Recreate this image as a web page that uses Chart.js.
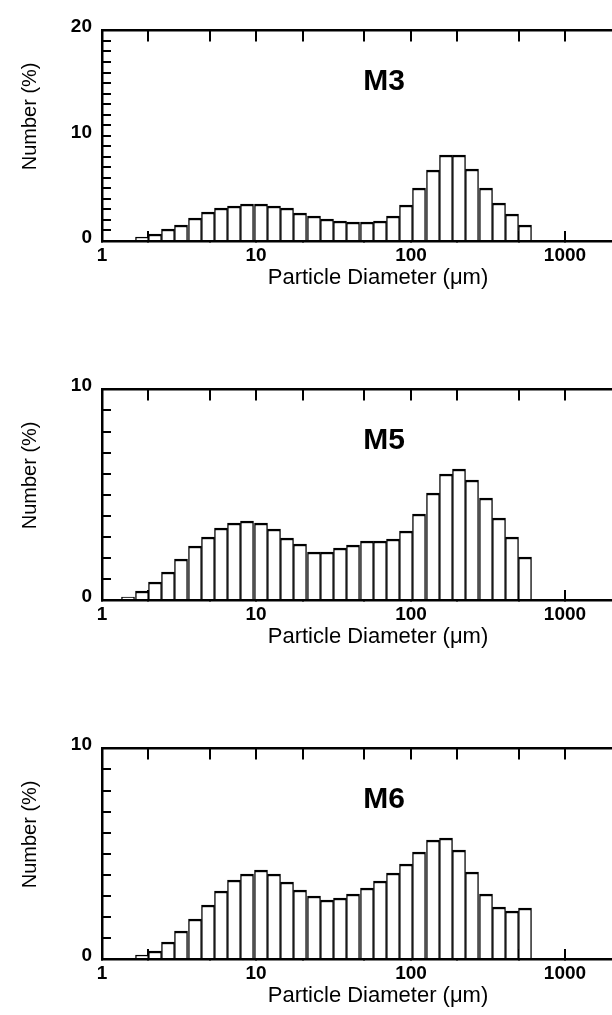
<!DOCTYPE html>
<html>
<head>
<meta charset="utf-8">
<script src="https://cdn.jsdelivr.net/npm/chart.js@4.4.1/dist/chart.umd.min.js"></script>
<style>
body { margin: 0; background: #fff; width: 612px; height: 1015px; overflow: hidden; }
.panel { width: 612px; height: 359px; overflow: hidden; }
canvas { display: block; }
</style>
</head>
<body>
<div class="panel"><canvas id="m3" width="620" height="359"></canvas></div>
<div class="panel"><canvas id="m5" width="620" height="359"></canvas></div>
<div class="panel"><canvas id="m6" width="620" height="359"></canvas></div>
<script>
// bin centres, particle diameter (um)
const diameters = [1.481, 1.804, 2.197, 2.677, 3.261, 3.973, 4.839, 5.895, 7.182, 8.749,
  10.66, 12.98, 15.82, 19.27, 23.47, 28.59, 34.83, 42.43, 51.69, 62.97,
  76.71, 93.45, 113.8, 138.7, 168.9, 205.8, 250.7, 305.4, 372.1, 453.3, 552.2];

// number (%) per bin
const m3Values = [0, 0.37, 0.7, 1.17, 1.54, 2.16, 2.78, 3.09, 3.33, 3.55,
  3.55, 3.33, 3.09, 2.69, 2.38, 2.1, 1.91, 1.85, 1.76, 1.91,
  2.4, 3.46, 5.0, 6.73, 8.18, 8.18, 6.85, 5.03, 3.61, 2.56, 1.54];
const m5Values = [0.12, 0.43, 0.84, 1.34, 1.97, 2.57, 3.0, 3.41, 3.64, 3.73,
  3.64, 3.35, 2.96, 2.64, 2.26, 2.26, 2.46, 2.61, 2.8, 2.8,
  2.92, 3.26, 4.07, 5.1, 5.96, 6.22, 5.71, 4.84, 3.87, 3.0, 2.03];
const m6Values = [0, 0.18, 0.38, 0.8, 1.34, 1.92, 2.57, 3.23, 3.75, 4.02,
  4.21, 4.02, 3.67, 3.26, 2.98, 2.82, 2.92, 3.1, 3.38, 3.72,
  4.06, 4.52, 5.1, 5.64, 5.76, 5.17, 4.15, 3.1, 2.49, 2.29, 2.44];

const xTicks = [1, 2, 5, 10, 20, 50, 100, 200, 500, 1000];
const xLabels = [1, 10, 100, 1000];
const xTitle = 'Particle Diameter (\u03bcm)';
const yTitle = 'Number (%)';

const FONT = '"Liberation Sans", Arial, Helvetica, sans-serif';
Chart.defaults.font.family = FONT;
Chart.defaults.color = '#000';

// axis titles and panel name
const panelText = {
  id: 'panelText',
  afterDraw(chart, args, opts) {
    const ctx = chart.ctx;
    const area = chart.chartArea;
    ctx.save();
    ctx.fillStyle = '#000';
    ctx.textAlign = 'center';
    ctx.textBaseline = 'middle';
    ctx.font = 'bold 30px ' + FONT;
    ctx.fillText(opts.name, 384, area.top + 51);
    ctx.font = '22px ' + FONT;
    ctx.fillText(xTitle, 378, area.bottom + 37);
    ctx.translate(30, area.top + 86);
    ctx.rotate(-Math.PI / 2);
    ctx.font = '20px ' + FONT;
    ctx.fillText(yTitle, 0, 0);
    ctx.restore();
  }
};

function setTicks(axis) {
  axis.ticks = xTicks.map(v => ({value: v}));
}

const tickGrid = len => ({drawOnChartArea: false, offset: false, tickLength: len, color: '#000', lineWidth: 2});
const axisBorder = {color: '#000', width: 2.5};
const tickFont = {size: 19, weight: 'bold'};

function makeChart(id, name, values, yMax) {
  new Chart(document.getElementById(id), {
    type: 'bar',
    data: {
      datasets: [{
        data: diameters.map((d, i) => ({x: d, y: values[i]})),
        backgroundColor: '#fff',
        borderColor: '#000',
        borderWidth: {top: 2.5, left: 1.4, right: 1.4, bottom: 0},
        categoryPercentage: 1,
        barPercentage: 1,
        xAxisID: 'x',
        yAxisID: 'y'
      }]
    },
    options: {
      responsive: false,
      animation: false,
      events: [],
      layout: {padding: {right: 5}},
      plugins: {
        legend: {display: false},
        tooltip: {enabled: false},
        panelText: {name: name}
      },
      scales: {
        x: {
          type: 'logarithmic', position: 'bottom', min: 1, max: 2100, offset: false, alignToPixels: true,
          afterBuildTicks: setTicks,
          afterFit: s => { s.height = 118; },
          grid: tickGrid(-10),
          border: axisBorder,
          ticks: {
            padding: 13, autoSkip: false, maxRotation: 0, color: '#000', font: tickFont,
            callback: v => xLabels.includes(v) ? String(v) : ''
          }
        },
        x2: {
          type: 'logarithmic', position: 'top', min: 1, max: 2100, offset: false, alignToPixels: true,
          afterBuildTicks: setTicks,
          afterFit: s => { s.height = 24; },
          grid: tickGrid(-11),
          border: axisBorder,
          ticks: {autoSkip: false, maxRotation: 0, callback: () => ''}
        },
        y: {
          type: 'linear', position: 'left', min: 0, max: yMax, alignToPixels: true,
          afterFit: s => { s.width = 102; },
          grid: tickGrid(-9),
          border: axisBorder,
          ticks: {
            stepSize: 1, autoSkip: false, padding: 19, labelOffset: -3, color: '#000', font: tickFont,
            callback: v => v % 10 === 0 ? String(v) : ''
          }
        }
      }
    },
    plugins: [panelText]
  });
}

makeChart('m3', 'M3', m3Values, 20);
makeChart('m5', 'M5', m5Values, 10);
makeChart('m6', 'M6', m6Values, 10);
</script>
</body>
</html>
